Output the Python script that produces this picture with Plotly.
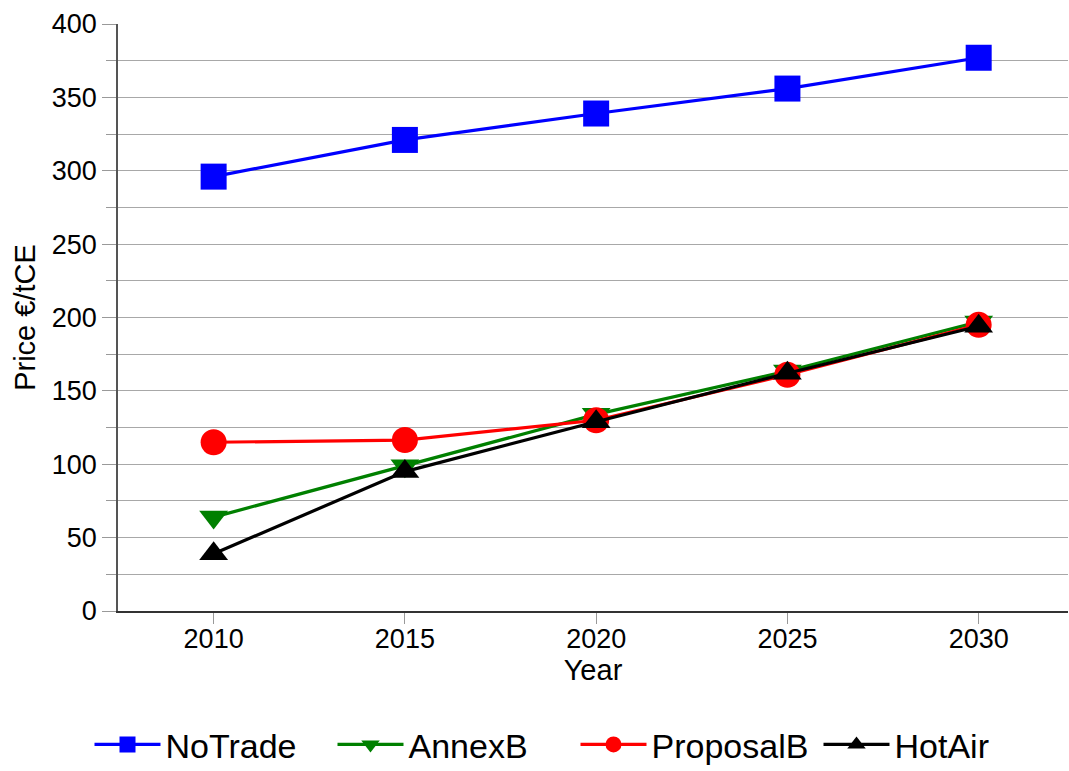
import plotly.graph_objects as go

years = ["2010", "2015", "2020", "2025", "2030"]
no_trade = [296, 321, 339, 356, 377]
annex_b = [64, 99, 134, 163.5, 197]
proposal_b = [115, 116.5, 130, 161, 195]
hot_air = [39, 95, 129, 162, 194]

series = [
    ("NoTrade", no_trade, "#0000ff", "square", 26),
    ("AnnexB", annex_b, "#008000", "triangle-down", 25),
    ("ProposalB", proposal_b, "#ff0000", "circle", 26),
    ("HotAir", hot_air, "#000000", "triangle-up", 25),
]

fig = go.Figure()
for name, vals, color, symbol, size in series:
    fig.add_trace(go.Scatter(
        x=years, y=vals, name=name, mode="lines+markers",
        line=dict(color=color, width=3.2),
        marker=dict(symbol=symbol, size=size, color=color, line=dict(width=0)),
    ))

font = "Liberation Sans, Arial, sans-serif"
fig.update_layout(
    width=1069, height=771,
    margin=dict(l=118, r=1, t=24, b=160, autoexpand=False),
    paper_bgcolor="white", plot_bgcolor="white",
    font=dict(family=font, size=27, color="black"),
    showlegend=True,
    legend=dict(orientation="h", x=-0.03, xanchor="left", y=-0.228, yanchor="middle",
                font=dict(size=34), itemsizing="trace", traceorder="normal",
                entrywidth=162, itemwidth=66),
    xaxis=dict(
        type="category", range=[-0.5, 4.467],
        title=dict(text="Year", font=dict(size=29), standoff=4),
        showline=True, linecolor="#333333", linewidth=1.5,
        ticks="outside", ticklen=11, tickcolor="#999999",
        ticklabelstandoff=-8,
        showgrid=False, zeroline=False,
    ),
    yaxis=dict(
        range=[0, 400], dtick=50,
        title=dict(text="Price €/tCE", font=dict(size=29), standoff=8),
        showline=True, linecolor="#555555", linewidth=1.5,
        ticks="outside", ticklen=14, tickcolor="#999999",
        gridcolor="#a8a8a8", gridwidth=1.2, zeroline=False,
        minor=dict(dtick=25, ticks="outside", ticklen=10, tickcolor="#999999",
                   showgrid=True, gridcolor="#a8a8a8", gridwidth=1.2),
    ),
)

fig.write_html("out.html")
